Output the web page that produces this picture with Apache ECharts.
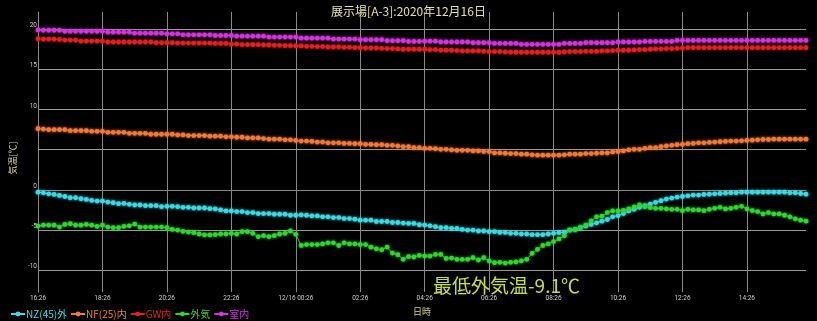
<!DOCTYPE html>
<html><head><meta charset="utf-8">
<script src="https://cdn.jsdelivr.net/npm/echarts@6/dist/echarts.min.js"></script>
<style>html,body{margin:0;padding:0;background:#000}#c{width:817px;height:321px}</style>
</head><body><div id="c"></div>
<script>
// 10-minute readings from 16:26 (12/15) to 16:16 (12/16)
const categories = [];
for (let i = 0; i < 144; i++) {
  const m = (16 * 60 + 26 + i * 10) % 1440;
  const hh = String(Math.floor(m / 60)).padStart(2, '0');
  const mm = String(m % 60).padStart(2, '0');
  categories.push((i === 48 ? '12/16 ' : '') + hh + ':' + mm);
}
const seriesNames = ['NZ(45)外', 'NF(25)内', 'GW内', '外気', '室内'];
const seriesColors = ['#3ed8e2', '#f07a3a', '#e02222', '#33d433', '#d236d8'];

const nz45 = [
 -0.29,-0.37,-0.49,-0.57,-0.70,-0.82,-0.98,-0.98,-1.10,-1.19,-1.31,-1.39,-1.39,-1.51,-1.60,-1.72,-1.68,-1.80,-1.88,-1.88,-1.96,-1.96,-1.96,-2.09,-2.04,-2.04,-2.09,-2.17,-2.17,-2.25,-2.25,-2.25,-2.33,-2.37,-2.49,-2.62,
 -2.62,-2.70,-2.70,-2.82,-2.82,-2.94,-2.94,-2.94,-3.03,-3.03,-3.03,-3.15,-3.15,-3.11,-3.15,-3.23,-3.23,-3.35,-3.35,-3.44,-3.44,-3.56,-3.56,-3.64,-3.76,-3.76,-3.76,-3.93,-3.93,-3.93,-4.05,-4.05,-4.13,-4.17,
 -4.17,-4.33,-4.37,-4.46,-4.58,-4.70,-4.70,-4.79,-4.79,-4.91,-4.99,-4.99,-5.11,-5.11,-5.19,-5.19,-5.28,-5.28,-5.40,-5.40,-5.48,-5.48,-5.56,-5.56,-5.56,-5.48,-5.40,-5.32,-5.24,-4.99,-4.91,-4.70,-4.50,-4.29,-4.09,-3.89,
 -3.68,-3.35,-3.19,-2.94,-2.62,-2.41,-2.17,-1.96,-1.76,-1.55,-1.35,-1.14,-1.02,-0.90,-0.82,-0.74,-0.65,-0.65,-0.57,-0.53,-0.49,-0.45,-0.41,-0.37,-0.37,-0.29,-0.29,-0.29,-0.29,-0.29,-0.29,-0.29,-0.29,-0.29,-0.37,-0.37,-0.45,-0.53
];
const nf25 = [
 7.60,7.56,7.48,7.48,7.48,7.48,7.36,7.36,7.36,7.36,7.28,7.28,7.28,7.15,7.15,7.15,7.15,7.03,7.03,7.03,7.03,6.91,6.91,6.91,6.91,6.91,6.83,6.83,6.75,6.75,6.75,6.75,6.67,6.67,6.67,6.59,
 6.59,6.54,6.54,6.46,6.46,6.46,6.38,6.30,6.30,6.30,6.22,6.22,6.14,6.06,6.06,6.02,5.94,5.94,5.85,5.85,5.85,5.77,5.77,5.73,5.73,5.65,5.65,5.61,5.61,5.53,5.53,5.45,5.37,5.37,5.24,5.24,
 5.16,5.16,5.12,5.04,5.04,4.96,4.92,4.92,4.92,4.84,4.84,4.76,4.76,4.59,4.59,4.55,4.51,4.51,4.43,4.43,4.35,4.31,4.31,4.31,4.31,4.31,4.35,4.43,4.43,4.43,4.51,4.51,4.55,4.59,4.59,4.72,
 4.76,4.84,4.96,5.04,5.04,5.16,5.24,5.24,5.37,5.45,5.53,5.61,5.65,5.73,5.77,5.85,5.85,5.89,5.94,5.98,6.02,6.06,6.06,6.10,6.14,6.18,6.22,6.26,6.26,6.30,6.30,6.30,6.30,6.30,6.30,6.30
];
const gwIn = [
 18.77,18.73,18.73,18.73,18.69,18.61,18.61,18.61,18.49,18.49,18.49,18.49,18.49,18.37,18.37,18.37,18.37,18.37,18.37,18.37,18.37,18.37,18.28,18.28,18.28,18.28,18.24,18.24,18.24,18.24,18.24,18.24,18.24,18.20,18.20,18.20,
 18.12,18.12,18.04,18.04,18.04,18.04,18.00,18.00,17.96,17.96,17.92,17.92,17.88,17.88,17.84,17.84,17.80,17.80,17.75,17.75,17.75,17.71,17.71,17.67,17.67,17.63,17.63,17.63,17.59,17.55,17.55,17.51,17.47,17.47,
 17.47,17.47,17.47,17.43,17.43,17.35,17.35,17.35,17.31,17.27,17.27,17.27,17.27,17.22,17.18,17.18,17.18,17.14,17.10,17.10,17.10,17.10,17.10,17.10,17.10,17.10,17.10,17.10,17.14,17.18,17.18,17.18,17.22,17.22,17.22,17.27,17.27,17.31,
 17.35,17.35,17.35,17.39,17.43,17.43,17.47,17.51,17.51,17.55,17.55,17.59,17.63,17.67,17.67,17.67,17.67,17.67,17.67,17.67,17.67,17.67,17.67,17.67,17.67,17.67,17.67,17.67,17.67,17.67,17.67,17.67,17.67,17.67,17.67,17.67
];
const outside = [
 -4.50,-4.38,-4.38,-4.38,-4.62,-4.29,-4.21,-4.38,-4.38,-4.29,-4.38,-4.54,-4.38,-4.62,-4.70,-4.70,-4.54,-4.46,-4.25,-4.62,-4.62,-4.62,-4.62,-4.62,-4.70,-4.91,-4.99,-5.15,-5.24,-5.32,-5.48,-5.60,-5.60,-5.56,-5.48,-5.48,
 -5.40,-5.48,-5.19,-5.19,-5.40,-5.81,-5.69,-5.81,-5.69,-5.48,-5.40,-5.11,-5.52,-6.91,-6.79,-6.79,-6.79,-6.71,-6.58,-6.58,-6.91,-6.58,-6.71,-6.71,-6.79,-6.79,-7.12,-7.32,-7.44,-7.12,-7.85,-8.06,-8.63,-8.30,
 -8.34,-8.14,-8.22,-8.22,-8.02,-8.02,-8.51,-8.47,-8.63,-8.63,-8.63,-8.43,-8.71,-8.43,-8.83,-9.05,-9.00,-9.10,-9.00,-8.95,-8.83,-8.63,-7.89,-7.40,-6.91,-6.71,-6.42,-6.09,-5.71,-4.99,-4.91,-4.66,-4.38,-3.84,-3.35,-3.27,
 -2.82,-2.62,-2.62,-2.54,-2.37,-2.13,-1.88,-2.09,-2.21,-2.29,-2.29,-2.37,-2.41,-2.41,-2.58,-2.41,-2.49,-2.49,-2.58,-2.41,-2.29,-2.17,-2.37,-2.29,-2.17,-2.04,-2.37,-2.58,-2.70,-2.99,-2.82,-2.99,-2.99,-3.15,-3.35,-3.60,-3.76,-3.89
];
const room = [
 19.87,19.83,19.83,19.83,19.83,19.71,19.71,19.71,19.71,19.71,19.71,19.71,19.71,19.59,19.59,19.59,19.59,19.59,19.47,19.47,19.47,19.47,19.47,19.47,19.39,19.39,19.39,19.26,19.26,19.26,19.26,19.26,19.26,19.18,19.18,19.18,
 19.18,19.10,19.10,19.10,19.10,19.10,19.10,18.98,18.98,18.98,18.98,18.98,18.98,18.85,18.85,18.85,18.85,18.85,18.85,18.73,18.73,18.73,18.73,18.73,18.65,18.65,18.65,18.65,18.65,18.53,18.53,18.53,18.53,18.45,18.45,18.45,
 18.47,18.47,18.47,18.37,18.37,18.37,18.37,18.37,18.37,18.28,18.28,18.28,18.28,18.20,18.20,18.20,18.20,18.20,18.08,18.08,18.08,18.08,18.08,18.08,18.08,18.08,18.20,18.20,18.20,18.20,18.28,18.28,18.28,18.28,18.28,18.28,
 18.37,18.37,18.37,18.37,18.37,18.45,18.45,18.45,18.45,18.45,18.45,18.57,18.57,18.57,18.57,18.57,18.57,18.57,18.57,18.57,18.57,18.57,18.57,18.57,18.57,18.57,18.57,18.57,18.57,18.57,18.57,18.57,18.57,18.57,18.57,18.57
];
const seriesData = [nz45, nf25, gwIn, outside, room];
const minOutside = -9.1;

const FONT = '"Noto Sans CJK JP", "Noto Sans", sans-serif';
const chart = echarts.init(document.getElementById('c'), null, {renderer: 'canvas'});
chart.setOption({
  backgroundColor: '#000000',
  animation: false,
  textStyle: {fontFamily: FONT},
  title: {
    text: '展示場[A-3]:2020年12月16日',
    left: 'center', top: 0,
    textStyle: {color: '#e4e49c', fontSize: 12, fontWeight: 'normal', fontFamily: FONT}
  },
  legend: {
    left: 10, top: 309, padding: 0,
    itemWidth: 14, itemHeight: 6, itemGap: 3,
    data: seriesNames.map((n, i) => ({name: n, textStyle: {color: seriesColors[i]}})),
    textStyle: {fontSize: 10, fontFamily: FONT, padding: [0, 0, 0, -4]}
  },
  grid: {left: 12, right: 11, top: 12, bottom: 24, containLabel: false},
  xAxis: {
    type: 'category', data: categories, boundaryGap: false,
    name: '日時', nameLocation: 'middle', nameGap: 12,
    nameTextStyle: {color: '#d8d88c', fontSize: 9, fontFamily: FONT},
    axisLine: {lineStyle: {color: '#8a8a8a', width: 1}},
    axisTick: {show: false},
    axisLabel: {interval: 11, color: '#cfcfcf', fontSize: 6.5, margin: 3, fontFamily: 'Roboto'},
    splitLine: {show: true, interval: 11, lineStyle: {color: '#8a8a8a', width: 1}}
  },
  yAxis: {
    type: 'value', min: -12.7, max: 22.1, splitNumber: 7,
    name: '気温[℃]', nameLocation: 'middle', nameGap: 6, nameRotate: 90,
    nameTextStyle: {color: '#d8d88c', fontSize: 9, fontFamily: FONT, padding: [0, 12, 0, 0]},
    axisLine: {show: true, lineStyle: {color: '#8a8a8a', width: 1}},
    axisTick: {show: false},
    axisLabel: {
      color: '#cfcfcf', fontSize: 6.5, margin: 1, verticalAlign: 'bottom', fontFamily: 'Roboto',
      showMinLabel: false, showMaxLabel: false,
      formatter: v => (v === 5 ? '' : String(v))
    },
    splitLine: {show: true, showMinLine: false, showMaxLine: false, lineStyle: {color: '#9a9a9a', width: 1}}
  },
  graphic: [{
    type: 'text', left: 433, top: 276, z: 100,
    style: {text: '最低外気温' + minOutside + '℃', fill: '#c6e044', font: '19px ' + FONT}
  }],
  series: seriesNames.map((n, i) => ({
    name: n, type: 'line', data: seriesData[i],
    symbol: 'circle', symbolSize: 4.8, showSymbol: true, showAllSymbol: true,
    lineStyle: {color: seriesColors[i], width: 1},
    itemStyle: {color: seriesColors[i], shadowBlur: 3, shadowColor: seriesColors[i]},
    emphasis: {disabled: true}
  }))
});
</script></body></html>
